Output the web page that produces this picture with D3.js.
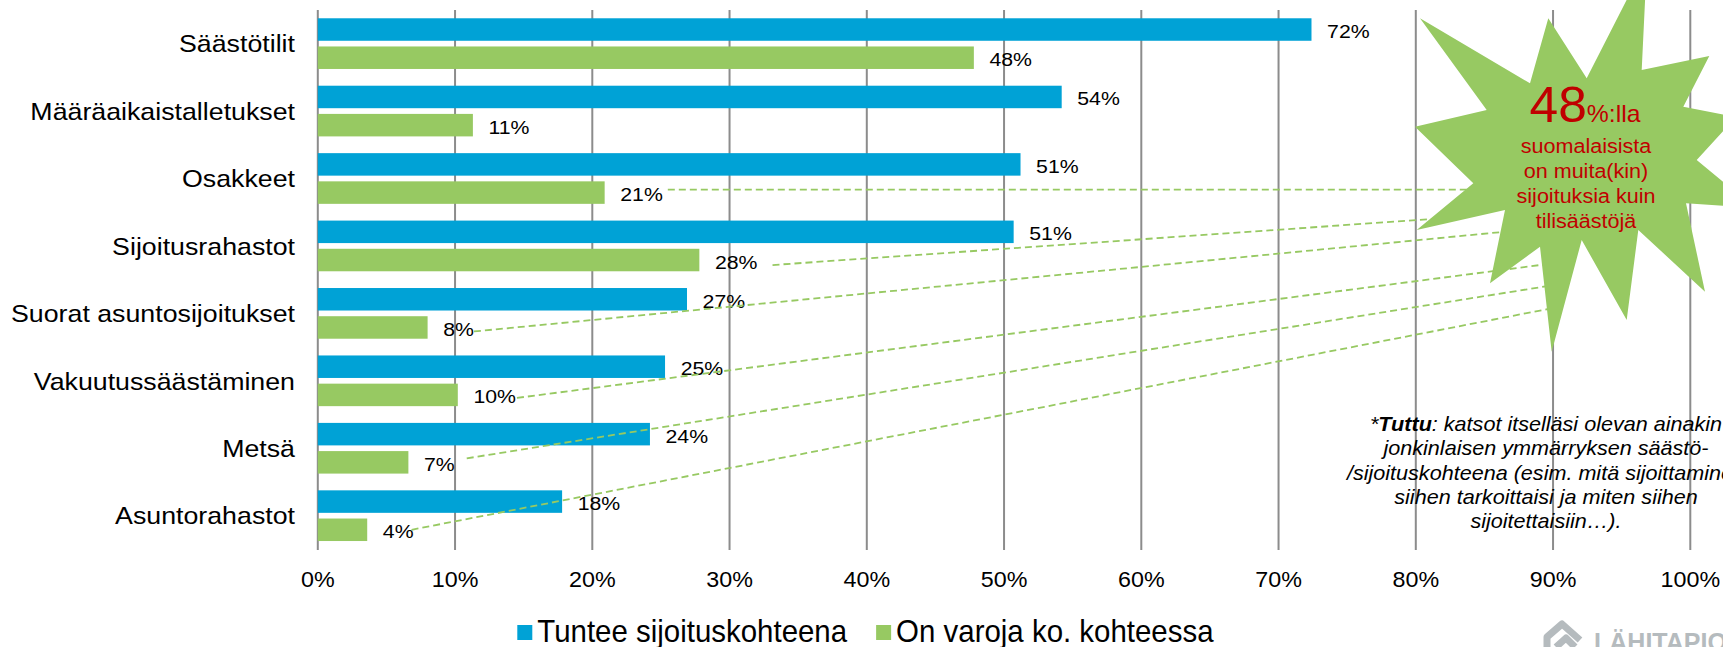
<!DOCTYPE html>
<html>
<head>
<meta charset="utf-8">
<script src="https://cdn.jsdelivr.net/npm/d3@7"></script>
<style>
body { margin: 0; background: #fff; }
svg { display: block; font-family: "Liberation Sans", Arial, sans-serif; }
</style>
</head>
<body>
<div id="chart"></div>
<script>
// data (percent)
var categories = ["Säästötilit", "Määräaikaistalletukset", "Osakkeet", "Sijoitusrahastot",
    "Suorat asuntosijoitukset", "Vakuutussäästäminen", "Metsä", "Asuntorahastot"];
var seriesNames = ["Tuntee sijoituskohteena", "On varoja ko. kohteessa"];
var tuntee = [72.4, 54.2, 51.2, 50.7, 26.9, 25.3, 24.2, 17.8];
var varoja = [47.8, 11.3, 20.9, 27.8, 8.0, 10.2, 6.6, 3.6];
var xTicks = [0, 10, 20, 30, 40, 50, 60, 70, 80, 90, 100];

var starBig = "48";
var starSmall = "%:lla";
var starLines = ["suomalaisista", "on muita(kin)", "sijoituksia kuin", "tilisäästöjä"];
var noteLines = [
    [["*", "i"], ["Tuttu", "b"], [": katsot itselläsi olevan ainakin", "i"]],
    [["jonkinlaisen ymmärryksen säästö-", "i"]],
    [["/sijoituskohteena (esim. mitä sijoittaminen", "i"]],
    [["siihen tarkoittaisi ja miten siihen", "i"]],
    [["sijoitettaisiin…).", "i"]]
];
// categories whose "on varoja" label is tied to the star
var calloutCats = ["Osakkeet", "Sijoitusrahastot", "Suorat asuntosijoitukset",
    "Vakuutussäästäminen", "Metsä", "Asuntorahastot"];

var W = 1723, H = 647;
var blue = "#00a2d6", green = "#97c962", grid = "#8c8c8c", red = "#c00000";

var svg = d3.select("#chart").append("svg")
    .attr("width", W)
    .attr("height", H);

var x = d3.scaleLinear().domain([0, 100]).range([317.8, 1690.3]);
var y = d3.scaleBand().domain(categories).range([9.9, 549.4]);
var ySub = d3.scaleBand().domain([0, 1]).range([0, y.bandwidth()])
    .paddingInner(0.202).paddingOuter(0.297);

// text with a small horizontal stretch like the original
function txt(g, tx, ty, size, sx, anchor, s) {
    return g.append("text")
        .attr("transform", "translate(" + tx + "," + ty + ") scale(" + sx + ",1)")
        .attr("font-size", size)
        .attr("text-anchor", anchor)
        .attr("fill", "#000")
        .text(s);
}

// grid
svg.append("g").selectAll("line")
    .data(xTicks)
    .enter()
    .append("line")
    .attr("x1", function (d) { return x(d); })
    .attr("x2", function (d) { return x(d); })
    .attr("y1", 10)
    .attr("y2", 550)
    .attr("stroke", grid)
    .attr("stroke-width", 2);

var tickG = svg.append("g");
xTicks.forEach(function (t) {
    txt(tickG, x(t), 586.7, 22, 1.06, "middle", t + "%");
});

// category labels
var catG = svg.append("g");
categories.forEach(function (c) {
    txt(catG, 295, y(c) + y.bandwidth() / 2 + 8.7, 24, 1.115, "end", c);
});

// bars
var rows = categories.map(function (c, i) {
    return { cat: c, vals: [tuntee[i], varoja[i]] };
});
var barG = svg.append("g");
var colors = [blue, green];
rows.forEach(function (r) {
    r.vals.forEach(function (v, k) {
        barG.append("rect")
            .attr("x", x(0))
            .attr("y", y(r.cat) + ySub(k))
            .attr("width", x(v) - x(0))
            .attr("height", ySub.bandwidth())
            .attr("fill", colors[k]);
    });
});

// data labels
var labG = svg.append("g");
var labelEnd = {};
rows.forEach(function (r) {
    r.vals.forEach(function (v, k) {
        var cy = y(r.cat) + ySub(k) + ySub.bandwidth() / 2;
        var t = txt(labG, x(v) + 15.6, cy + 8.5, 19, 1.12, "start", Math.round(v) + "%");
        if (k == 1) {
            labelEnd[r.cat] = { x: x(v) + 15.6 + t.node().getComputedTextLength() * 1.12, y: cy };
        }
    });
});

// dashed callouts from labels to the star
var calloutEnds = [[1480, null], [1432, 219], [1502, 232], [1548, 264], [1548, 286], [1548, 309]];
var calloutDy = [-3, 5, 4, 3, -4, 0];
var calloutGap = [5, 15, 0, 1, 12, -2];
var callG = svg.append("g");
calloutCats.forEach(function (c, i) {
    var s = labelEnd[c];
    var sy = s.y + calloutDy[i];
    var e = calloutEnds[i];
    callG.append("line")
        .attr("x1", s.x + calloutGap[i])
        .attr("y1", sy)
        .attr("x2", e[0])
        .attr("y2", e[1] == null ? sy : e[1])
        .attr("stroke", green)
        .attr("stroke-width", 1.8)
        .attr("stroke-dasharray", "7,4");
});

// starburst
var star = [[1647, -40], [1641.7, 70], [1709.3, 56], [1683.3, 106.7], [1736, 117], [1696.7, 160],
    [1755, 208], [1686, 203.3], [1705, 291.7], [1638.3, 230], [1626.7, 320], [1581.7, 240],
    [1551.7, 351.7], [1540, 246.7], [1490, 283.3], [1505, 210], [1416.7, 230], [1473.3, 183.3],
    [1415, 126.7], [1486.7, 110], [1420, 18.3], [1530, 83.3], [1548.3, 18.3], [1586.7, 78.3]];
svg.append("path")
    .attr("d", d3.line()(star) + "Z")
    .attr("fill", green);

var big = svg.append("text")
    .attr("transform", "translate(1585,121.7) scale(1.03,1)")
    .attr("text-anchor", "middle")
    .attr("fill", red);
big.append("tspan").attr("font-size", 50).text(starBig);
big.append("tspan").attr("font-size", 24).text(starSmall);

var starG = svg.append("g");
starLines.forEach(function (s, i) {
    txt(starG, 1586, 152.5 + i * 25.3, 19.6, 1.1, "middle", s).attr("fill", red);
});

// footnote
noteLines.forEach(function (parts, i) {
    var t = svg.append("text")
        .attr("transform", "translate(1546," + (431 + i * 24.3) + ") scale(1.08,1)")
        .attr("font-size", 20)
        .attr("text-anchor", "middle")
        .attr("font-style", "italic")
        .attr("fill", "#000");
    parts.forEach(function (p) {
        t.append("tspan")
            .attr("font-weight", p[1] == "b" ? "bold" : "normal")
            .text(p[0]);
    });
});

// legend
var lx = 517.3;
seriesNames.forEach(function (n, k) {
    svg.append("rect")
        .attr("x", lx)
        .attr("y", 625)
        .attr("width", 15)
        .attr("height", 15)
        .attr("fill", colors[k]);
    var t = txt(svg, lx + 20, 641.7, 31, 0.95, "start", n);
    lx = lx + 20 + t.node().getComputedTextLength() * 0.95 + 29;
});

// logo, cut by the bottom edge
var logoGrey = "#b5bbbe";
svg.append("path")
    .attr("d", "M1547,647 L1547,637 L1562,624 L1580,640 M1556,647 L1566,638 L1575,647")
    .attr("fill", "none")
    .attr("stroke", logoGrey)
    .attr("stroke-width", 7)
    .attr("stroke-linejoin", "round");
svg.append("text")
    .attr("x", 1594)
    .attr("y", 651)
    .attr("font-size", 25)
    .attr("font-weight", "bold")
    .attr("fill", logoGrey)
    .text("LÄHITAPIOLA");
</script>
</body>
</html>
